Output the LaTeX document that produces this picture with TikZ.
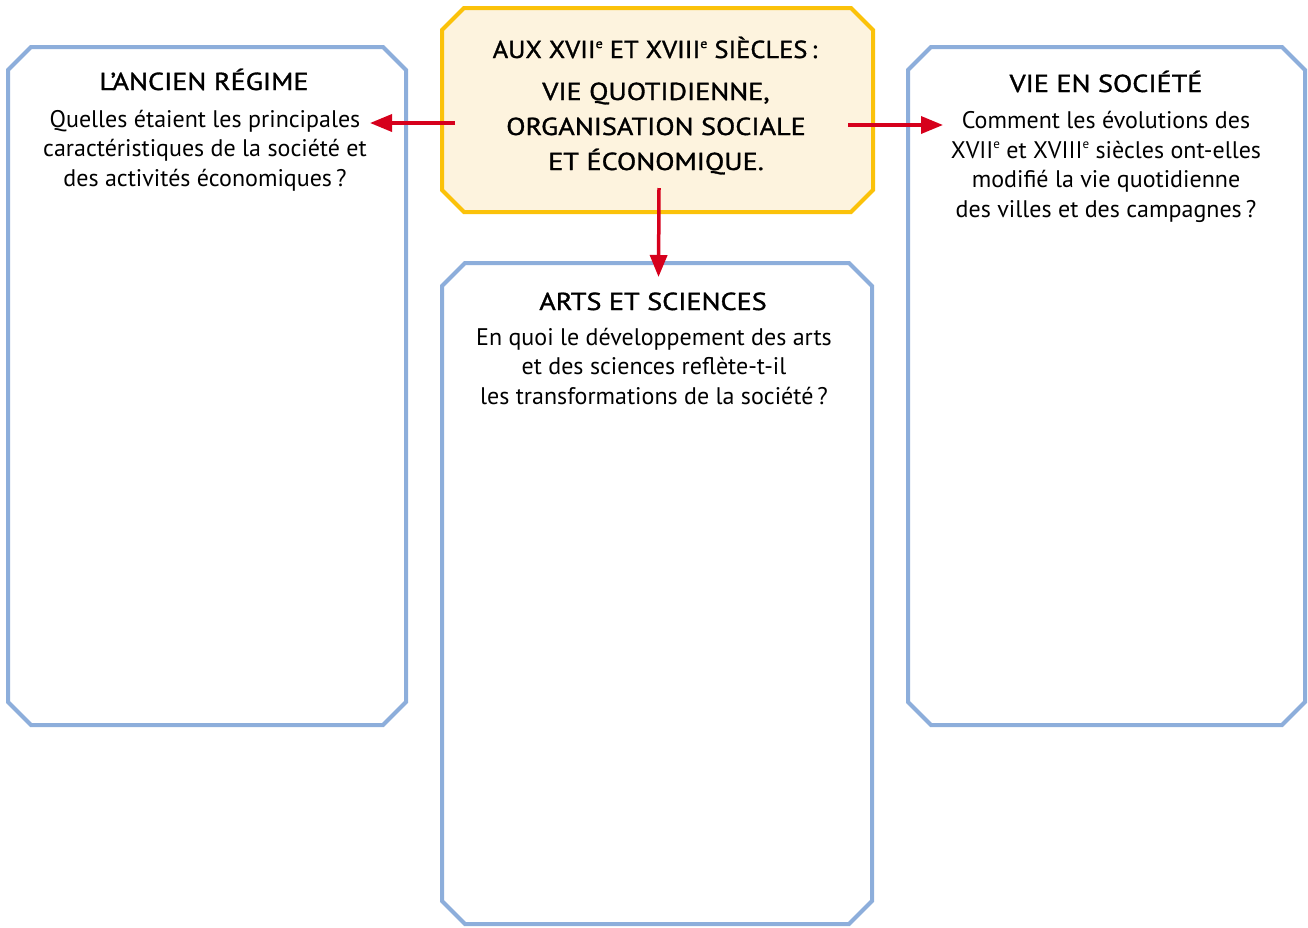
\documentclass[tikz,border=0pt]{standalone}
\usepackage{fontspec}
\setmainfont{PT Sans}
\newfontfamily\semib[FakeBold=1.3,FakeStretch=1.15]{PT Sans}
\newfontfamily\semibn[FakeBold=1.3,FakeStretch=1.08]{PT Sans}
\usetikzlibrary{arrows.meta,calc}
\definecolor{boxblue}{RGB}{141,174,219}
\definecolor{boxgold}{RGB}{251,194,10}
\definecolor{boxcream}{RGB}{253,243,222}
\definecolor{arrred}{RGB}{214,0,28}
\newcommand\supe{\raisebox{10pt}{\fontsize{13}{13}\selectfont e}}
\newcommand\chambox[3]{%
  \draw[#2] ([xshift=#3]#1.north west) -- ([xshift=-#3]#1.north east) -- ([yshift=-#3]#1.north east) -- ([yshift=#3]#1.south east) -- ([xshift=-#3]#1.south east) -- ([xshift=#3]#1.south west) -- ([yshift=#3]#1.south west) -- ([yshift=-#3]#1.north west) -- cycle;}
\tikzset{
  frame/.style={rectangle, inner sep=0pt, outer sep=0pt},
  bluebox/.style={draw=boxblue, line width=4pt, fill=white},
  goldbox/.style={draw=boxgold, line width=4pt, fill=boxcream},
  title/.style={font=\semib\fontsize{24.5}{29.5}\selectfont, anchor=base, inner sep=0pt},
  body/.style={font=\fontsize{24}{29.5}\selectfont, align=center, anchor=base, inner sep=0pt},
  arr/.style={draw=arrred, line width=3.5pt, -{Triangle[length=22pt,width=17pt]}}
}
\begin{document}
\begin{tikzpicture}[x=1pt,y=-1pt]
\useasboundingbox (0,0) rectangle (1308,927);
% frames
\node[frame, minimum width=398pt, minimum height=678pt] (left) at (207,386) {};
\node[frame, minimum width=397pt, minimum height=678pt] (right) at (1106.5,386) {};
\node[frame, minimum width=430pt, minimum height=661pt] (arts) at (657,593.5) {};
\node[frame, minimum width=431pt, minimum height=204pt] (ctr) at (657.5,110) {};
\chambox{left}{bluebox}{23pt}
\chambox{right}{bluebox}{23pt}
\chambox{arts}{bluebox}{23pt}
\chambox{ctr}{goldbox}{22pt}
% texts (multi-line nodes: base = baseline of last line)
\node[title, font=\semibn\fontsize{24.5}{29.5}\selectfont] (t1) at (655,58) {AUX XVII\supe{} ET XVIII\supe{} SIÈCLES\,:};
\node[title, align=center, font=\semib\fontsize{24.5}{35}\selectfont] (t2) at (656,170) {VIE QUOTIDIENNE,\\ORGANISATION SOCIALE\\ET ÉCONOMIQUE.};
\node[title] (lt) at (204,90) {L’ANCIEN RÉGIME};
\node[body] (lb) at (205,186) {Quelles étaient les principales\\caractéristiques de la société et\\des activités économiques\,?};
\node[title] (rt) at (1106,92) {VIE EN SOCIÉTÉ};
\node[body] (rb) at (1106,217) {Comment les évolutions des\\XVII\supe{} et XVIII\supe{} siècles ont-elles\\modifié la vie quotidienne\\des villes et des campagnes\,?};
\node[title] (at) at (653,310) {ARTS ET SCIENCES};
\node[body] (ab) at (654,404) {En quoi le développement des arts\\et des sciences reflète-t-il\\les transformations de la société\,?};
% arrows
\draw[arr] ($(ctr.west)+(13,13)$) -- ($(left.east |- ctr.west)+(-36,13)$);
\draw[arr] ($(ctr.east)+(-25,15)$) -- ($(right.west |- ctr.east)+(35,15)$);
\draw[arr] ($(ctr.south)+(1.5,-24)$) -- ($(arts.north)+(1.5,14)$);
\end{tikzpicture}
\end{document}
